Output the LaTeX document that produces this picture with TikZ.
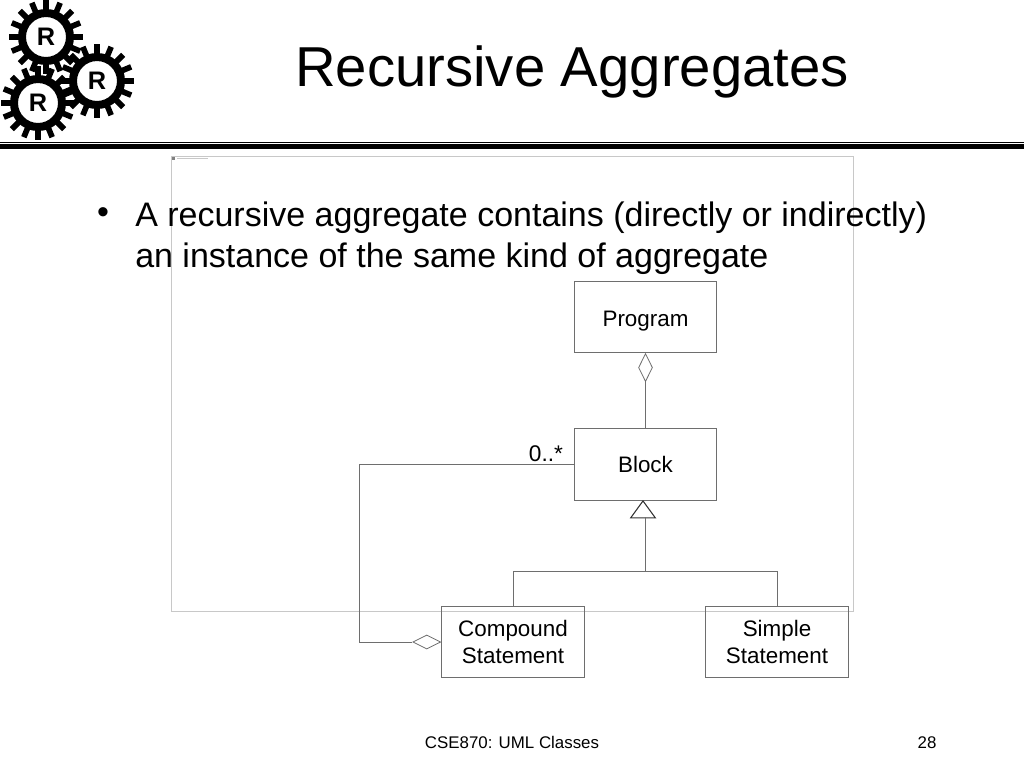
\documentclass[tikz,border=0pt]{standalone}
\usepackage{fontspec}
\setmainfont{Liberation Sans}
\usetikzlibrary{shapes.geometric}

\definecolor{umlline}{HTML}{6E6E6E}
\definecolor{framegray}{HTML}{C8C8C8}

\tikzset{
  umlclass/.style={draw=umlline,line width=0.75pt,minimum width=107pt,minimum height=53.5pt,align=center,font=\fontsize{16.8}{20.5}\selectfont},
  umlassoc/.style={draw=umlline,line width=0.7pt},
  aggdiamond/.style={draw=umlline,fill=white,diamond,inner sep=0pt,line width=0.6pt},
  gearhub/.style={circle,draw=black,fill=white,line width=6pt,minimum size=36pt,inner sep=0pt,font=\fontsize{19}{19}\selectfont\bfseries},
  geartooth/.style={line width=4.25pt,draw=black}
}

% one cog, teeth first and hub on top
\newcommand{\cogwheel}[4]{
  \foreach \a in {0,22.5,...,337.5}
    \draw[geartooth] (#2,#3)++(\a+#4:20pt) -- ++(\a+#4:7.75pt);
  \node[gearhub] (#1) at (#2,#3) {R};
}

\begin{document}
\begin{tikzpicture}[x=0.75pt,y=-0.75pt]
\useasboundingbox (0,0) rectangle (1024,768);

% logo
\cogwheel{gearA}{46}{37}{0}
\cogwheel{gearC}{38}{103}{0}
\cogwheel{gearB}{97}{81}{0}

\node[font=\fontsize{42.2}{42.2}\selectfont] (title) at (572,72) {Recursive Aggregates};
\fill (0,144) rectangle (1024,148.5);
\fill (0,142) rectangle (1024,142.8);

% faint frame behind the text
\draw[framegray,line width=0.7pt] (171,156) rectangle (853,611);
\fill[gray] (171.5,156.5) rectangle (175,160);
\draw[framegray,line width=0.5pt] (177,158) -- (208,158);

\node[font=\fontsize{25.5}{25.5}\selectfont] (bullet) at (103,216) {•};
\node[anchor=base west,font=\fontsize{25.5}{25.5}\selectfont,inner sep=0pt] (line1) at (135,226) {A recursive aggregate contains (directly or indirectly)};
\node[anchor=base west,font=\fontsize{25.5}{25.5}\selectfont,inner sep=0pt] (line2) at (135,267) {an instance of the same kind of aggregate};

\node[umlclass,text depth=0pt,text height=13.5pt] (program) at (645.5,317) {Program};
\node[umlclass] (block) at (645.5,464.5) {Block};
\node[umlclass] (compound) at (513,642) {Compound\\Statement};
\node[umlclass] (simple) at (777,642) {Simple\\Statement};

\node[aggdiamond,minimum width=10.5pt,minimum height=21pt,anchor=north] (progdiamond) at (program.south) {};
\node[aggdiamond,minimum width=21pt,minimum height=10.5pt,anchor=east] (compdiamond) at (compound.west) {};
\node[isosceles triangle,isosceles triangle apex angle=72,shape border rotate=90,draw=black!80,line width=0.8pt,inner sep=0pt,minimum height=12.75pt,anchor=apex] (inherit) at (643,500) {};

\coordinate (inheritbase) at (645,517);
\coordinate (bus) at (645,571);
\coordinate (loopcorner) at (359,464.5);

\draw[umlassoc] (progdiamond.south) -- (block.north);
\draw[umlassoc] (inheritbase) -- (bus);
\draw[umlassoc] (compound.north) |- (bus);
\draw[umlassoc] (simple.north) |- (bus);
\draw[umlassoc] (block.west) -- (loopcorner) |- (compdiamond.west);

\node[font=\fontsize{17}{17}\selectfont] (mult) at (546,454) {0..*};

\node[anchor=base,font=\fontsize{12.65}{12.65}\selectfont] (footer) at (512,748) {CSE870: UML Classes};
\node[anchor=base,font=\fontsize{12.65}{12.65}\selectfont] (pagenum) at (927,748) {28};
\end{tikzpicture}
\end{document}
